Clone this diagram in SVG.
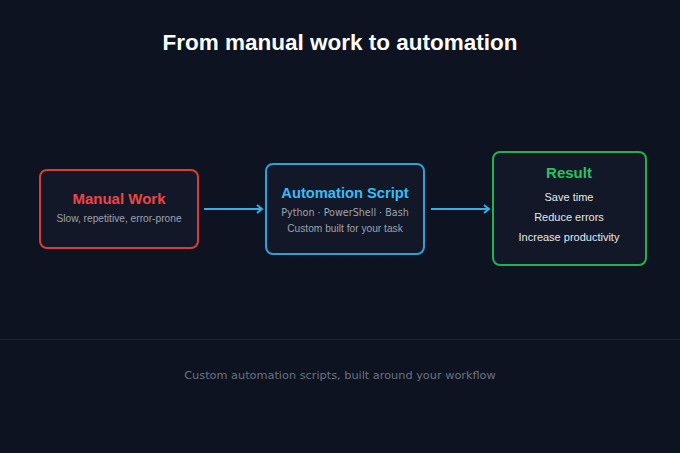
<svg xmlns="http://www.w3.org/2000/svg" width="680" height="453" viewBox="0 0 680 453">
<style>
.box{fill:#121827;stroke-width:2}
.t{font-family:"Liberation Sans",Arial,sans-serif;text-anchor:middle}
.h{font-weight:bold;font-size:15px}
.s{font-size:10.2px;fill:#9ca3af}
.r{font-size:11px;fill:#e5e7eb}
.d{font-family:"DejaVu Sans",sans-serif;text-anchor:middle;font-size:9.6px;fill:#9ca3af}
.c{stroke:#38aee6;stroke-width:2;fill:none}
</style>
<defs>
<marker id="ah" viewBox="0 0 10 10" refX="8" refY="5" markerWidth="10" markerHeight="10" orient="auto" markerUnits="userSpaceOnUse">
<path d="M3,1 L8,5 L3,9" fill="none" stroke="#38aee6" stroke-width="2"/>
</marker>
</defs>
<rect width="680" height="453" fill="#0d1320"/>
<text class="t" x="340" y="50" font-size="22.5" font-weight="bold" fill="#ffffff">From manual work to automation</text>
<g id="connectors">
<path class="c" d="M204,209 H262" marker-end="url(#ah)"/>
<path class="c" d="M431,209 H489" marker-end="url(#ah)"/>
</g>
<g id="manual">
<rect class="box" x="40" y="170" width="158" height="78" rx="7" stroke="#dc3a3a"/>
<text class="t h" x="119" y="204" fill="#ef4444">Manual Work</text>
<text class="t s" x="119" y="222">Slow, repetitive, error-prone</text>
</g>
<g id="script">
<rect class="box" x="266" y="164" width="158" height="90" rx="7" stroke="#2f9fd8"/>
<text class="t h" x="345" y="198" font-size="14.7" style="font-size:14.7px" fill="#38bdf8">Automation Script</text>
<text class="d" x="345" y="216">Python · PowerShell · Bash</text>
<text class="t s" x="345" y="232">Custom built for your task</text>
</g>
<g id="result">
<rect class="box" x="493" y="152" width="153" height="113" rx="7" stroke="#22b14c"/>
<text class="t h" x="569" y="178" fill="#22c55e">Result</text>
<text class="t r" x="569" y="201">Save time</text>
<text class="t r" x="569" y="221">Reduce errors</text>
<text class="t r" x="569" y="241">Increase productivity</text>
</g>
<line x1="0" y1="339.5" x2="680" y2="339.5" stroke="#1c2733" stroke-width="1"/>
<text class="d" x="340" y="379" style="fill:#6b7280;font-size:11.3px">Custom automation scripts, built around your workflow</text>
</svg>
